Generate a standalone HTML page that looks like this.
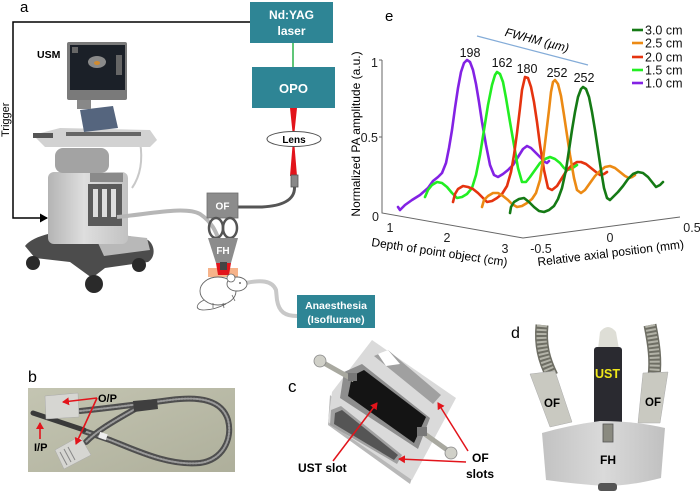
<!DOCTYPE html>
<html><head><meta charset="utf-8"><style>
html,body{margin:0;padding:0;background:#fff;}
svg{display:block;font-family:"Liberation Sans",Arial,sans-serif;}
</style></head><body>
<svg width="700" height="492" viewBox="0 0 700 492" xmlns="http://www.w3.org/2000/svg">
<defs>
<marker id="ah" markerWidth="8" markerHeight="8" refX="6" refY="4" orient="auto" markerUnits="userSpaceOnUse"><path d="M0,0 L7,4 L0,8 Z" fill="#e2141b"/></marker>
<marker id="bk" markerWidth="9" markerHeight="9" refX="7" refY="4.5" orient="auto" markerUnits="userSpaceOnUse"><path d="M0,0 L8,4.5 L0,9 Z" fill="#000"/></marker>
<linearGradient id="body" x1="0" y1="0" x2="1" y2="0"><stop offset="0" stop-color="#b4b4b4"/><stop offset="0.45" stop-color="#dedede"/><stop offset="1" stop-color="#c2c2c2"/></linearGradient>
<linearGradient id="photo" x1="0" y1="0" x2="1" y2="1"><stop offset="0" stop-color="#c4c5b2"/><stop offset="1" stop-color="#aeaf9b"/></linearGradient>
<linearGradient id="fh" x1="0" y1="0" x2="1" y2="0"><stop offset="0" stop-color="#c2c2c2"/><stop offset="0.5" stop-color="#dadada"/><stop offset="1" stop-color="#c0c0c0"/></linearGradient>
</defs>

<!-- ===== Panel a ===== -->
<text x="20" y="12" font-size="15">a</text>
<!-- trigger line -->
<polyline points="250,22 13,22 13,218 47,218" fill="none" stroke="#000" stroke-width="1.5" marker-end="url(#bk)"/>
<text x="0" y="0" font-size="11" transform="translate(9,137) rotate(-90)">Trigger</text>

<!-- ultrasound machine -->
<path d="M25,246 C35,233 70,228 100,230 L148,240 C156,246 155,258 148,262 L105,268 L92,278 L70,262 L35,258 Z" fill="#4c4c4c"/>
<polygon points="93,232 147,238 150,250 104,256" fill="#b8b8b8"/>
<circle cx="33" cy="263" r="7" fill="#2a2a2a"/>
<circle cx="94" cy="284" r="9" fill="#2a2a2a"/>
<circle cx="139" cy="265" r="7" fill="#2a2a2a"/>
<rect x="48" y="172" width="80" height="72" rx="6" fill="url(#body)"/>
<rect x="90" y="173" width="33" height="9" fill="#8a8a8a"/>
<rect x="88" y="184" width="34" height="42" fill="#5a5a5a"/>
<rect x="93" y="189" width="5" height="28" fill="#ddd"/>
<rect x="102" y="189" width="5" height="28" fill="#ddd"/>
<rect x="111" y="189" width="5" height="28" fill="#ddd"/>
<rect x="55" y="148" width="54" height="25" rx="8" fill="#a3a3a3"/>
<path d="M140,142 C143,160 141,175 132,188" stroke="#c8c8c8" stroke-width="2" fill="none"/>
<polygon points="33,135 60,128 150,130 157,140 150,147 45,147" fill="#d2d2d2"/>
<rect x="66" y="132" width="75" height="4" fill="#666"/>
<rect x="33" y="133" width="20" height="5" fill="#555"/>
<polygon points="80,110 113,106 118,128 84,132" fill="#55657e"/>
<rect x="77" y="99" width="14" height="10" fill="#888"/>
<rect x="67" y="42" width="60" height="58" rx="2" fill="#7a7a7a"/>
<rect x="70" y="45" width="55" height="45" fill="#1b2028"/>
<ellipse cx="97" cy="62" rx="9" ry="6" fill="#8a8a8a"/>
<ellipse cx="97" cy="63" rx="3" ry="2" fill="#d08a30"/>
<rect x="116" y="55" width="6" height="20" fill="#666"/>
<rect x="72" y="47" width="6" height="6" fill="#666"/>
<text x="37" y="58" font-size="10.5" font-weight="bold">USM</text>

<!-- laser boxes -->
<rect x="250" y="2" width="83" height="41" fill="#2e8595"/>
<text x="291.5" y="19" font-size="12" font-weight="bold" fill="#fff" text-anchor="middle">Nd:YAG</text>
<text x="291.5" y="35" font-size="12" font-weight="bold" fill="#fff" text-anchor="middle">laser</text>
<line x1="293" y1="43" x2="293" y2="67" stroke="#2ab34a" stroke-width="1.5"/>
<rect x="252" y="67" width="83" height="41" fill="#2e8595"/>
<text x="293.5" y="93" font-size="13" font-weight="bold" fill="#fff" text-anchor="middle">OPO</text>
<polygon points="290,108 297,108 294.5,132 292.5,132" fill="#e2141b"/>
<polygon points="292.5,146 294.5,146 297,176 290,176" fill="#e2141b"/>
<ellipse cx="294" cy="139" rx="27" ry="7.5" fill="#fff" stroke="#555" stroke-width="1"/>
<text x="294" y="143" font-size="10" font-weight="bold" text-anchor="middle">Lens</text>
<rect x="291" y="175" width="7" height="12" fill="#888" stroke="#555" stroke-width="0.8"/>
<path d="M294.5,187 C295,200 282,206 262,207 L238,207" stroke="#555" stroke-width="3" fill="none"/>
<!-- grey cable from machine -->
<path d="M117,217 C150,214 185,206 200,214 C212,222 216,232 219,240" stroke="#b6b6b6" stroke-width="4" fill="none"/>
<rect x="207" y="193" width="31" height="25" fill="#8c8c8c" stroke="#6e6e6e" stroke-width="0.8"/>
<text x="222.5" y="209.5" font-size="10" font-weight="bold" fill="#fff" text-anchor="middle">OF</text>
<ellipse cx="216" cy="228" rx="7" ry="10" fill="none" stroke="#555" stroke-width="2.5"/>
<ellipse cx="230" cy="228" rx="7" ry="10" fill="none" stroke="#555" stroke-width="2.5"/>
<polygon points="208,238 238,238 231,263 216,263" fill="#8c8c8c"/>
<text x="223" y="254" font-size="10" font-weight="bold" fill="#fff" text-anchor="middle">FH</text>
<rect x="208" y="268" width="30" height="9" fill="#f6b38a"/>
<polygon points="216,263 231,263 229,275 218,275" fill="#e2141b"/>
<rect x="220" y="262" width="7" height="8" fill="#444"/>
<!-- rat -->
<path d="M246,283 C260,280 272,280 276,290 L277,300 C279,312 285,316 297,316" stroke="#c8c8c8" stroke-width="4" fill="none"/>
<path d="M204,300 C196,304 194,310 204,310 C214,310 222,306 226,304" fill="none" stroke="#666" stroke-width="0.8"/>
<ellipse cx="218" cy="291" rx="18" ry="14" fill="#fff" stroke="#666" stroke-width="0.9"/>
<ellipse cx="237" cy="284" rx="10" ry="7" fill="#fff" stroke="#666" stroke-width="0.9"/>
<circle cx="231" cy="278" r="4" fill="#fff" stroke="#666" stroke-width="0.8"/>
<circle cx="240" cy="283" r="0.9" fill="#444"/>
<path d="M213,303 l0,5 M223,303 l1,5 M232,295 l3,6" stroke="#666" stroke-width="0.8"/>
<rect x="297" y="295" width="78" height="33" fill="#2e8595"/>
<text x="336" y="309" font-size="10.5" font-weight="bold" fill="#fff" text-anchor="middle">Anaesthesia</text>
<text x="336" y="323" font-size="10.5" font-weight="bold" fill="#fff" text-anchor="middle">(Isoflurane)</text>

<!-- ===== Panel e chart ===== -->
<text x="385" y="21" font-size="15">e</text>
<line x1="477" y1="36" x2="588" y2="65" stroke="#84acd8" stroke-width="1.2"/>
<text x="0" y="0" font-size="12" font-style="italic" text-anchor="middle" transform="translate(536,44) rotate(14.6)">FWHM (µm)</text>
<g stroke="#666" stroke-width="1" fill="none">
<polyline points="382,60 382,213 523,238 680,217"/>
<line x1="379" y1="60" x2="382" y2="60"/>
<line x1="379" y1="137" x2="382" y2="137"/>
</g>
<g font-size="12.5" fill="#222">
<text x="371" y="67">1</text>
<text x="378" y="142" text-anchor="end">0.5</text>
<text x="372" y="221">0</text>
<text x="390" y="232" text-anchor="middle">1</text>
<text x="447" y="242" text-anchor="middle">2</text>
<text x="505" y="253" text-anchor="middle">3</text>
<text x="541" y="253" text-anchor="middle">-0.5</text>
<text x="610" y="242" text-anchor="middle">0</text>
<text x="692" y="232" text-anchor="middle">0.5</text>
</g>
<text x="0" y="0" font-size="12" text-anchor="middle" transform="translate(360,134) rotate(-90)">Normalized PA amplitude (a.u.)</text>
<text x="0" y="0" font-size="12" transform="translate(371,246) rotate(8.5)">Depth of point object (cm)</text>
<text x="0" y="0" font-size="12" transform="translate(538,266) rotate(-7)">Relative axial position (mm)</text>
<g fill="none" stroke-width="2.6" stroke-linejoin="round" stroke-linecap="round">
<polyline stroke="#8322e4" points="398,207 400,210 405,205 412,200 420,195 428,188 433,181 438,177 442,173 446,163 449,148 452,130 455,108 458,88 461,72 464,63 467,60 470,62 473,70 476,84 479,102 482,122 486,145 490,165 494,175 498,177 503,174 508,170 513,165 518,157 523,149 527,146 531,148 536,153 541,158 545,162 547,163 549,161"/>
<polyline stroke="#22ee22" points="425,197 428,190 432,185 437,182 442,183 447,187 452,193 457,198 462,197 467,194 472,188 476,175 480,155 484,130 488,105 492,85 495,75 497,72 500,74 503,82 506,98 510,122 514,145 518,168 522,182 526,182 530,177 535,170 540,163 545,159 550,157 555,159 560,163 564,168 567,170 571,169 577,165"/>
<polyline stroke="#e5330f" points="453,202 455,194 458,189 463,186 468,187 473,189 478,193 483,198 487,202 492,201 497,198 502,194 507,186 511,172 514,155 517,133 520,108 522,90 525,77 528,78 531,87 534,102 537,122 540,145 544,170 548,188 552,190 557,186 562,178 567,170 572,165 577,162 581,162 586,164 591,168 596,172 600,175 604,174 607,172"/>
<polyline stroke="#ec8a14" points="482,207 484,200 488,196 493,193 498,193 503,196 508,200 512,204 517,207 522,206 527,203 532,199 536,193 540,180 543,160 546,135 549,110 551,92 553,82 555,80 558,84 561,96 564,115 567,135 570,155 574,178 577,190 581,193 585,190 590,183 595,176 600,171 605,167 610,166 615,168 620,172 625,176 629,178 632,177 635,175"/>
<polyline stroke="#157a15" points="510,213 511,207 514,202 519,199 524,198 529,202 534,207 539,211 544,212 549,210 554,206 558,199 562,188 566,170 569,150 572,130 575,112 578,97 581,89 583,87 586,89 589,97 592,112 595,130 598,150 601,170 604,188 607,198 610,200 614,196 618,192 623,186 628,179 633,174 638,172 643,173 648,177 652,182 656,187 660,185 663,182"/>
</g>
<g font-size="12.5" text-anchor="middle" fill="#111">
<text x="470" y="57">198</text>
<text x="502" y="67">162</text>
<text x="527" y="73">180</text>
<text x="557" y="77">252</text>
<text x="584" y="82">252</text>
</g>
<g stroke-width="2.6">
<line x1="632" y1="30" x2="643" y2="30" stroke="#157a15"/>
<line x1="632" y1="43" x2="643" y2="43" stroke="#ec8a14"/>
<line x1="632" y1="57" x2="643" y2="57" stroke="#e5330f"/>
<line x1="632" y1="70" x2="643" y2="70" stroke="#22ee22"/>
<line x1="632" y1="83" x2="643" y2="83" stroke="#8322e4"/>
</g>
<g font-size="12.5" fill="#111">
<text x="645" y="34.5">3.0 cm</text>
<text x="645" y="47.5">2.5 cm</text>
<text x="645" y="61.5">2.0 cm</text>
<text x="645" y="74.5">1.5 cm</text>
<text x="645" y="87.5">1.0 cm</text>
</g>

<!-- ===== Panel b ===== -->
<text x="28" y="382" font-size="16">b</text>
<rect x="28" y="388" width="207" height="84" fill="url(#photo)"/>
<g fill="none" stroke-linecap="round">
<path d="M80,411 C110,408 140,404 170,400 C200,396 222,400 228,420 C233,440 222,460 200,463 C170,466 140,452 110,440 L84,431" stroke="#4e4e4e" stroke-width="6"/>
<path d="M80,411 C110,408 140,404 170,400 C200,396 222,400 228,420 C233,440 222,460 200,463 C170,466 140,452 110,440 L84,431" stroke="#9a9a9a" stroke-width="2" stroke-dasharray="1.5,1.5"/>
<path d="M140,406 C120,418 100,428 86,442" stroke="#4e4e4e" stroke-width="6"/>
<path d="M140,406 C120,418 100,428 86,442" stroke="#9a9a9a" stroke-width="2" stroke-dasharray="1.5,1.5"/>
</g>
<line x1="33" y1="413" x2="84" y2="430" stroke="#3a3a3a" stroke-width="5" stroke-linecap="round"/>
<polygon points="133,401 157,399 158,409 134,412" fill="#3f3f3f"/>
<rect x="99" y="433" width="8" height="6" fill="#eee" transform="rotate(20 103 436)"/>
<polygon points="45,396 78,393 79,417 46,419" fill="#d6d6d2" stroke="#aaa" stroke-width="0.5"/>
<polygon points="55,450 80,436 91,455 64,469" fill="#d6d6d2" stroke="#aaa" stroke-width="0.5"/>
<g stroke="#888" stroke-width="1"><line x1="60" y1="452" x2="67" y2="465"/><line x1="64" y1="449" x2="71" y2="462"/><line x1="68" y1="447" x2="75" y2="460"/></g>
<g stroke="#e2141b" stroke-width="1.6" fill="none">
<line x1="97" y1="398" x2="63" y2="402" marker-end="url(#ah)"/>
<line x1="97" y1="398" x2="76" y2="444" marker-end="url(#ah)"/>
<line x1="40" y1="439" x2="40" y2="423" marker-end="url(#ah)"/>
</g>
<text x="98" y="402" font-size="11" font-weight="bold">O/P</text>
<text x="34" y="451" font-size="11" font-weight="bold">I/P</text>

<!-- ===== Panel c ===== -->
<text x="288" y="392" font-size="17">c</text>
<polygon points="330,395 328,425 410,484 412,478" fill="#b8b8b8"/>
<polygon points="372,340 456,398 412,480 328,422 332,392" fill="#dadada"/>
<polygon points="374,356 388,350 441,395 433,404" fill="#a0a0a0"/>
<polygon points="378,354 388,350 400,364 386,366" fill="#fff"/>
<polygon points="344,372 362,364 430,418 418,449 340,398" fill="#8e8e8e"/>
<polygon points="352,376 364,370 426,417 414,443 348,396" fill="#141414"/>
<polygon points="331,410 341,406 402,455 397,464 330,425" fill="#a0a0a0"/>
<polygon points="335,413 342,410 398,455 394,460 334,424" fill="#555"/>
<line x1="322" y1="362" x2="354" y2="380" stroke="#a9a9a0" stroke-width="5"/>
<circle cx="320" cy="361" r="6" fill="#d0d0c8" stroke="#888" stroke-width="0.8"/>
<rect x="348" y="373" width="9" height="8" fill="#777"/>
<line x1="422" y1="432" x2="450" y2="452" stroke="#a9a9a0" stroke-width="5"/>
<circle cx="451" cy="453" r="6" fill="#d0d0c8" stroke="#888" stroke-width="0.8"/>
<rect x="417" y="427" width="10" height="9" fill="#777"/>
<g stroke="#e2141b" stroke-width="1.5" fill="none">
<line x1="333" y1="461" x2="377" y2="403" marker-end="url(#ah)"/>
<line x1="468" y1="451" x2="438" y2="403" marker-end="url(#ah)"/>
<line x1="466" y1="462" x2="399" y2="459" marker-end="url(#ah)"/>
</g>
<text x="298" y="472" font-size="12" font-weight="bold">UST slot</text>
<text x="472" y="462" font-size="12" font-weight="bold">OF</text>
<text x="466" y="478" font-size="12" font-weight="bold">slots</text>

<!-- ===== Panel d ===== -->
<text x="511" y="338" font-size="16">d</text>
<g fill="none" stroke-linecap="butt">
<path d="M542,325 C540,345 544,360 552,376" stroke="#6e6e64" stroke-width="13"/>
<path d="M542,325 C540,345 544,360 552,376" stroke="#b3b3a8" stroke-width="10" stroke-dasharray="2,2"/>
<path d="M650,325 C654,345 656,360 654,376" stroke="#6e6e64" stroke-width="13"/>
<path d="M650,325 C654,345 656,360 654,376" stroke="#b3b3a8" stroke-width="10" stroke-dasharray="2,2"/>
</g>
<polygon points="530,374 555,371 572,422 550,427" fill="#c9c9c1" stroke="#aaa" stroke-width="0.5"/>
<polygon points="643,373 668,372 660,423 638,423" fill="#c9c9c1" stroke="#aaa" stroke-width="0.5"/>
<path d="M598,349 L600,332 Q608,322 616,332 L619,349 Z" fill="#deded6"/>
<rect x="594" y="347" width="28" height="78" rx="3" fill="#2a2a30"/>
<path d="M542,433 Q570,425 600,421 Q635,421 665,428 L661,478 Q630,486 605,486 Q575,484 546,480 Z" fill="url(#fh)"/>
<rect x="598" y="483" width="19" height="8" rx="3" fill="#555"/>
<rect x="603" y="424" width="10" height="18" fill="#8a8a80" stroke="#555" stroke-width="0.8"/>
<text x="607.5" y="378" font-size="12.5" font-weight="bold" fill="#f0e81a" text-anchor="middle">UST</text>
<text x="552" y="407" font-size="11.5" font-weight="bold" text-anchor="middle">OF</text>
<text x="653" y="406" font-size="11.5" font-weight="bold" text-anchor="middle">OF</text>
<text x="608" y="464" font-size="12" font-weight="bold" text-anchor="middle">FH</text>
</svg>
</body></html>
